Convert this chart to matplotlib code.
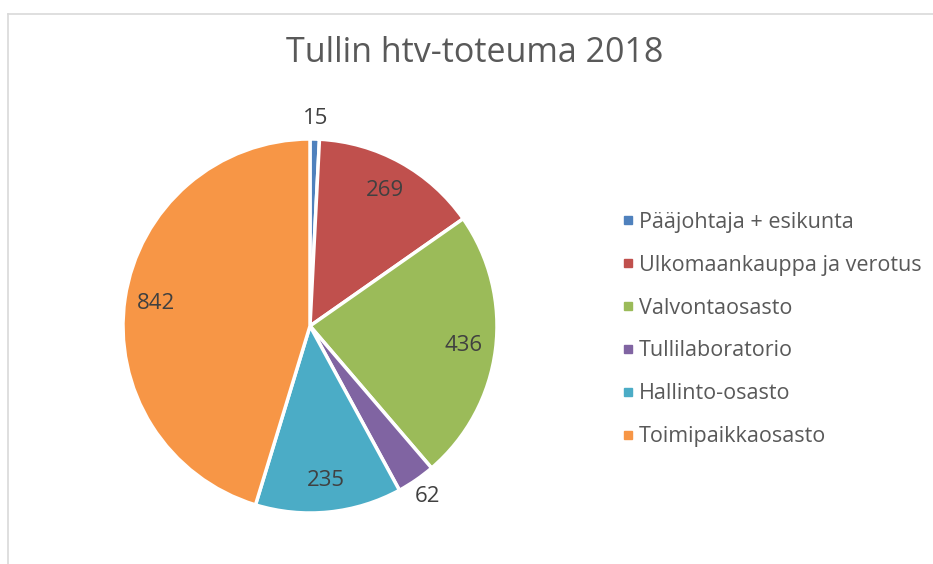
import numpy as np
from matplotlib import pyplot as plt
from matplotlib.lines import Line2D

labels = ['Pääjohtaja + esikunta', 'Ulkomaankauppa ja verotus', 'Valvontaosasto',
          'Tullilaboratorio', 'Hallinto-osasto', 'Toimipaikkaosasto']
values = [15, 269, 436, 62, 235, 842]
colors = ['#4F81BD', '#C0504D', '#9BBB59', '#8064A2', '#4BACC6', '#F79646']

W, H = 933, 564
fig = plt.figure(figsize=(W/100, H/100), dpi=100)
plt.rcParams['font.family'] = ['Open Sans', 'DejaVu Sans']
txt = '#595959'

# chart border (left + top only visible)
fig.add_artist(Line2D([8/W, 8/W], [0, 1 - 14/H], color='#D9D9D9', lw=1.2))
fig.add_artist(Line2D([8/W, 1], [1 - 14/H, 1 - 14/H], color='#D9D9D9', lw=1.2))

fig.text(475/W, 1 - 53/H, 'Tullin htv-toteuma 2018', ha='center', va='center',
         fontsize=24.5, color=txt)

cx, cy, r = 310, 326, 187
ax = fig.add_axes([(cx - r)/W, (H - cy - r)/H, 2*r/W, 2*r/H])
wedges, _ = ax.pie(values, colors=colors, startangle=90, counterclock=False,
                   wedgeprops=dict(edgecolor='white', linewidth=2.5))
ax.set_xlim(-1, 1)
ax.set_ylim(-1, 1)
ax.set_aspect('equal')
ax.axis('off')

total = sum(values)
for w, v in zip(wedges, values):
    ang = np.deg2rad((w.theta1 + w.theta2) / 2)
    # small slices get their label outside the pie
    d = 1.11 if v / total < 0.05 else 0.83
    ax.text(d*np.cos(ang), d*np.sin(ang), str(v), ha='center', va='center',
            fontsize=16, color='#404040', clip_on=False)

handles = [Line2D([], [], marker='s', ls='', color=c, markersize=5.5) for c in colors]
fig.legend(handles, labels, loc='upper left', bbox_to_anchor=(611/W, 1 - 203/H),
           frameon=False, fontsize=15.5, labelcolor=txt, handletextpad=0.1,
           labelspacing=1.02, handlelength=0.8, borderaxespad=0)

fig.savefig('out.png', dpi=100)
